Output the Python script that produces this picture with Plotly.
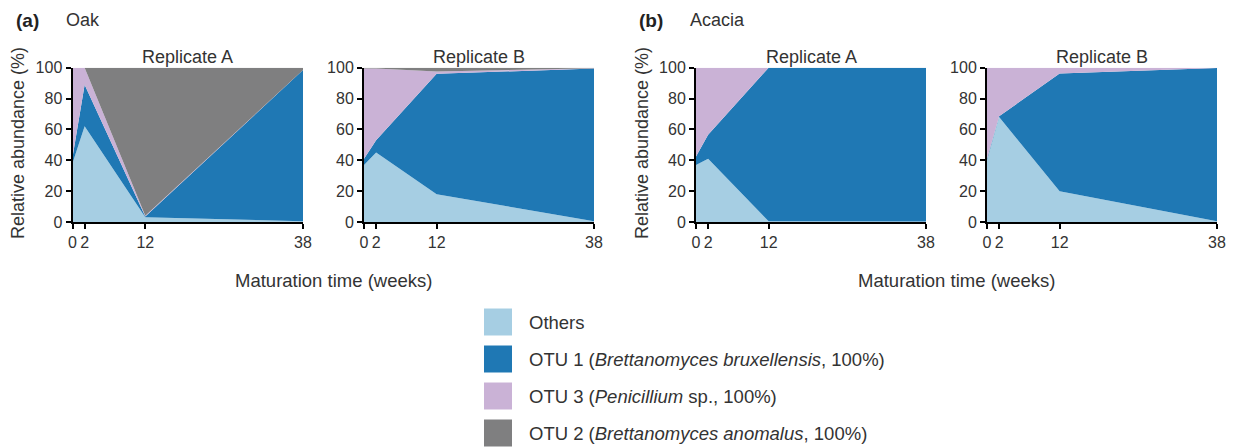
import plotly.graph_objects as go

# Sampling times (weeks of maturation)
weeks = [0, 2, 12, 38]
x_ticks = [0, 2, 12, 38]
y_ticks = [0, 20, 40, 60, 80, 100]

# Relative abundance (%) per OTU, stacked bottom to top: Others, OTU 1, OTU 3, OTU 2
oak_a_others = [38, 62, 3, 0.5]
oak_a_otu1 = [4, 27, 0.5, 98]
oak_a_otu3 = [58, 11, 0.5, 0]
oak_a_otu2 = [0, 0, 96, 1.5]

oak_b_others = [37, 45, 18, 0.5]
oak_b_otu1 = [4, 8, 78, 99]
oak_b_otu3 = [58.5, 46.5, 1.5, 0.2]
oak_b_otu2 = [0.5, 0.5, 2.5, 0.3]

acacia_a_others = [37, 41, 0.5, 0.3]
acacia_a_otu1 = [5.5, 15.5, 99.5, 99.7]
acacia_a_otu3 = [57.5, 43.5, 0, 0]
acacia_a_otu2 = [0, 0, 0, 0]

acacia_b_others = [40, 68, 20, 0.5]
acacia_b_otu1 = [1, 0.5, 76.3, 99.3]
acacia_b_otu3 = [59, 31.5, 3.7, 0.2]
acacia_b_otu2 = [0, 0, 0, 0]

series_names = ["Others", "OTU 1", "OTU 3", "OTU 2"]
legend_labels = [
    "Others",
    "OTU 1 (<i>Brettanomyces bruxellensis</i>, 100%)",
    "OTU 3 (<i>Penicillium</i> sp., 100%)",
    "OTU 2 (<i>Brettanomyces anomalus</i>, 100%)",
]
series_colors = ["#a6cee3", "#1f78b4", "#cab2d6", "#7f7f80"]

panels = [
    ("Replicate A", [oak_a_others, oak_a_otu1, oak_a_otu3, oak_a_otu2]),
    ("Replicate B", [oak_b_others, oak_b_otu1, oak_b_otu3, oak_b_otu2]),
    ("Replicate A", [acacia_a_others, acacia_a_otu1, acacia_a_otu3, acacia_a_otu2]),
    ("Replicate B", [acacia_b_others, acacia_b_otu1, acacia_b_otu3, acacia_b_otu2]),
]

W, H = 1240, 447
FONT = "Arial, Liberation Sans, sans-serif"
TEXT = "#333333"

# Plot-area pixel extents for each panel
x_pix = [(72.5, 303), (364, 594), (696, 926), (987, 1217)]
y_top, y_bot = 67.7, 222


def px(x):
    return x / W


def py(y):
    return 1 - y / H


fig = go.Figure()
layout_axes = {}
annotations = []

for i, (title, stacks) in enumerate(panels):
    n = i + 1
    xa = "x" if n == 1 else f"x{n}"
    ya = "y" if n == 1 else f"y{n}"
    for name, vals, col in zip(series_names, stacks, series_colors):
        fig.add_trace(go.Scatter(
            x=weeks, y=vals, name=name, mode="lines",
            line=dict(width=0, color=col), fillcolor=col,
            stackgroup=f"s{n}", xaxis=xa, yaxis=ya, showlegend=False,
            hoverinfo="x+y+name",
        ))
    x0, x1 = x_pix[i]
    common = dict(
        showline=True, linecolor="black", linewidth=2, mirror=False,
        ticks="outside", ticklen=5, tickwidth=2, tickcolor="black",
        showgrid=False, zeroline=False, layer="above traces", automargin=False,
        tickfont=dict(family=FONT, size=16, color=TEXT), fixedrange=True,
    )
    layout_axes["xaxis" if n == 1 else f"xaxis{n}"] = dict(
        domain=[px(x0), px(x1)], range=[0, 38], tickvals=x_ticks,
        anchor=ya, **common,
    )
    layout_axes["yaxis" if n == 1 else f"yaxis{n}"] = dict(
        domain=[py(y_bot), py(y_top)], range=[0, 100], tickvals=y_ticks,
        anchor=xa, **common,
    )
    annotations.append(dict(
        text=title, x=px((x0 + x1) / 2), y=py(57), xref="paper", yref="paper",
        showarrow=False, font=dict(family=FONT, size=18, color=TEXT),
        xanchor="center", yanchor="middle",
    ))

# Panel headings, axis titles
for lbl, name, xl, xn in [("(a)", "Oak", 27, 64), ("(b)", "Acacia", 651, 688)]:
    annotations.append(dict(text=f"<b>{lbl}</b>", x=px(xl), y=py(20), xref="paper", yref="paper",
                            showarrow=False, xanchor="center", yanchor="middle",
                            font=dict(family=FONT, size=19, color="#222222")))
    annotations.append(dict(text=name, x=px(xn), y=py(20), xref="paper", yref="paper",
                            showarrow=False, xanchor="left", yanchor="middle",
                            font=dict(family=FONT, size=18, color=TEXT)))

for xc in [(x_pix[0][0] + x_pix[1][1]) / 2, (x_pix[2][0] + x_pix[3][1]) / 2]:
    annotations.append(dict(text="Maturation time (weeks)", x=px(xc), y=py(280),
                            xref="paper", yref="paper", showarrow=False,
                            xanchor="center", yanchor="middle",
                            font=dict(family=FONT, size=18.5, color=TEXT)))

for xc in [18, 642]:
    annotations.append(dict(text="Relative abundance (%)", x=px(xc), y=py(143),
                            xref="paper", yref="paper", showarrow=False, textangle=-90,
                            xanchor="center", yanchor="middle",
                            font=dict(family=FONT, size=18, color=TEXT)))

# Legend: colour swatches with labels
shapes = []
row_centres = [322, 359, 396, 433]
for lbl, col, yc in zip(legend_labels, series_colors, row_centres):
    shapes.append(dict(type="rect", xref="paper", yref="paper",
                       x0=px(484), x1=px(512), y0=py(yc + 13.5), y1=py(yc - 13.5),
                       fillcolor=col, line=dict(width=0)))
    annotations.append(dict(text=lbl, x=px(527), y=py(yc), xref="paper", yref="paper",
                            showarrow=False, xanchor="left", yanchor="middle",
                            font=dict(family=FONT, size=18.5, color=TEXT)))

fig.update_layout(
    width=W, height=H, margin=dict(l=0, r=0, t=0, b=0),
    paper_bgcolor="white", plot_bgcolor="white",
    annotations=annotations, shapes=shapes, showlegend=False,
    **layout_axes,
)

fig.write_html("out.html")
